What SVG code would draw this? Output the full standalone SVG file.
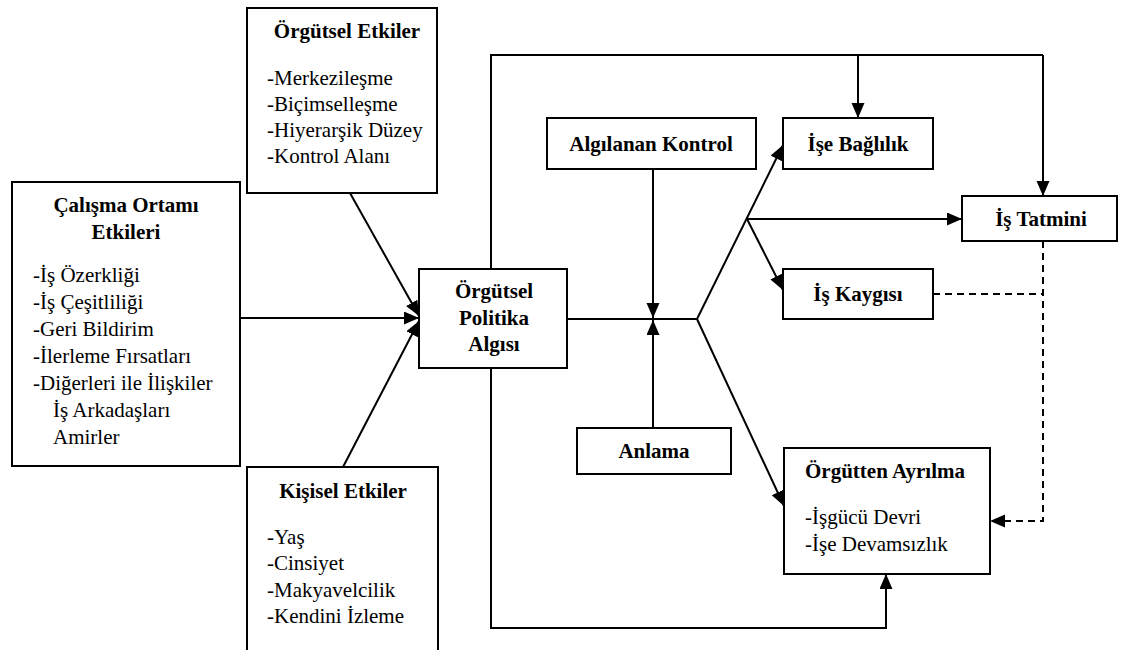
<svg xmlns="http://www.w3.org/2000/svg" width="1121" height="650" viewBox="0 0 1121 650">
<defs>
<marker id="ah" markerUnits="userSpaceOnUse" markerWidth="16" markerHeight="14" refX="15" refY="6.5" orient="auto" viewBox="0 0 16 14">
<path d="M0,0 L15,6.5 L0,13 z" fill="#000"/>
</marker>
<style>
.box{fill:#fff;stroke:#000;stroke-width:2}
.t{font-family:"Liberation Serif","Times New Roman",serif;font-size:21px;fill:#000}
.b{font-weight:bold}
.m{text-anchor:middle}
.ln{fill:none;stroke:#000;stroke-width:2}
.ar{marker-end:url(#ah)}
.d{stroke-dasharray:7,5}
</style>
</defs>
<rect width="1121" height="650" fill="#fff"/>

<g id="connectors">
<line class="ln ar" x1="240" y1="318" x2="419" y2="318"/>
<line class="ln ar" x1="350" y1="193" x2="419" y2="316"/>
<line class="ln ar" x1="343" y1="467" x2="419" y2="321"/>
<polyline class="ln" points="491,269 491,55 1043,55"/>
<line class="ln ar" x1="858" y1="55" x2="858" y2="118"/>
<line class="ln ar" x1="1043" y1="55" x2="1043" y2="196"/>
<polyline class="ln" points="567,319 697,319"/>
<line class="ln ar" x1="653" y1="169" x2="653" y2="318"/>
<line class="ln ar" x1="653" y1="428" x2="653" y2="320"/>
<line class="ln ar" x1="697" y1="319" x2="783" y2="145"/>
<line class="ln ar" x1="747" y1="219" x2="962" y2="219"/>
<line class="ln ar" x1="747" y1="219" x2="783" y2="290"/>
<line class="ln ar" x1="697" y1="319" x2="784" y2="506"/>
<polyline class="ln ar" points="491,368 491,628 886,628 886,574"/>
<line class="ln d" x1="933" y1="294" x2="1043" y2="294"/>
<polyline class="ln d ar" points="1043,241 1043,521 990,521"/>
</g>

<g id="orgutsel-etkiler">
<rect class="box" x="247" y="8" width="190" height="185"/>
<text class="t b m" x="347" y="38">Örgütsel Etkiler</text>
<text class="t" x="267" y="85">-Merkezileşme</text>
<text class="t" x="267" y="111">-Biçimselleşme</text>
<text class="t" x="267" y="137">-Hiyerarşik Düzey</text>
<text class="t" x="267" y="163">-Kontrol Alanı</text>
</g>

<g id="calisma-ortami">
<rect class="box" x="12" y="182" width="228" height="284"/>
<text class="t b m" x="126" y="212">Çalışma Ortamı</text>
<text class="t b m" x="126" y="239">Etkileri</text>
<text class="t" x="33" y="282">-İş Özerkliği</text>
<text class="t" x="33" y="309">-İş Çeşitliliği</text>
<text class="t" x="33" y="336">-Geri Bildirim</text>
<text class="t" x="33" y="363">-İlerleme Fırsatları</text>
<text class="t" x="33" y="390">-Diğerleri ile İlişkiler</text>
<text class="t" x="53" y="417">İş Arkadaşları</text>
<text class="t" x="53" y="444">Amirler</text>
</g>

<g id="kisisel-etkiler">
<rect class="box" x="247" y="467" width="191" height="200"/>
<text class="t b m" x="343" y="498">Kişisel Etkiler</text>
<text class="t" x="267" y="544">-Yaş</text>
<text class="t" x="267" y="570">-Cinsiyet</text>
<text class="t" x="267" y="597">-Makyavelcilik</text>
<text class="t" x="267" y="623">-Kendini İzleme</text>
</g>

<g id="politika-algisi">
<rect class="box" x="419" y="269" width="148" height="99"/>
<text class="t b m" x="494" y="298">Örgütsel</text>
<text class="t b m" x="494" y="325">Politika</text>
<text class="t b m" x="494" y="351">Algısı</text>
</g>

<g id="algilanan-kontrol">
<rect class="box" x="547" y="118" width="209" height="51"/>
<text class="t b m" x="651" y="151">Algılanan Kontrol</text>
</g>

<g id="anlama">
<rect class="box" x="577" y="428" width="154" height="46"/>
<text class="t b m" x="654" y="458">Anlama</text>
</g>

<g id="ise-baglilik">
<rect class="box" x="783" y="118" width="150" height="51"/>
<text class="t b m" x="858" y="151">İşe Bağlılık</text>
</g>

<g id="is-tatmini">
<rect class="box" x="962" y="196" width="155" height="45"/>
<text class="t b m" x="1041" y="226">İş Tatmini</text>
</g>

<g id="is-kaygisi">
<rect class="box" x="783" y="269" width="150" height="50"/>
<text class="t b m" x="858" y="301">İş Kaygısı</text>
</g>

<g id="orgutten-ayrilma">
<rect class="box" x="784" y="448" width="206" height="126"/>
<text class="t b" x="805" y="478">Örgütten Ayrılma</text>
<text class="t" x="805" y="524">-İşgücü Devri</text>
<text class="t" x="805" y="551">-İşe Devamsızlık</text>
</g>
</svg>
